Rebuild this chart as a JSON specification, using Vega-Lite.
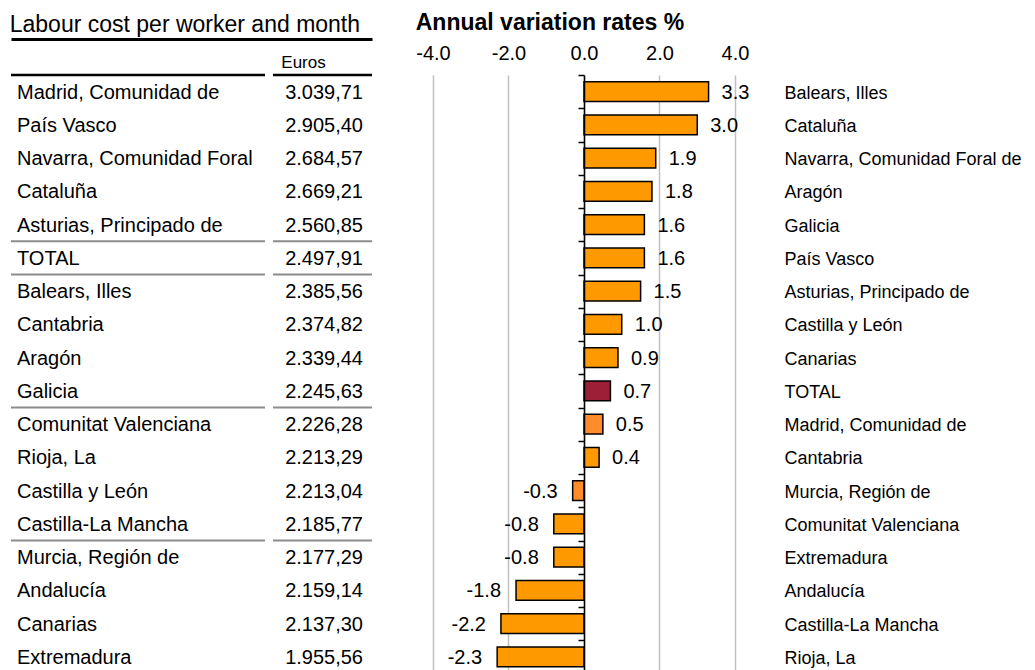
{
  "$schema": "https://vega.github.io/schema/vega-lite/v6.json",
  "padding": {"left": 9, "top": 12, "right": 0, "bottom": 0},
  "config": {
    "view": {"stroke": null},
    "font": "Liberation Sans",
    "scale": {"bandPaddingInner": 0, "bandPaddingOuter": 0},
    "locale": {"number": {"decimal": ".", "thousands": ",", "grouping": [3], "currency": ["", ""], "minus": "-"}}
  },
  "data": {
    "values": [
      {"region": "Balears, Illes", "euros": 2385.56, "rate": 3.3},
      {"region": "Cataluña", "euros": 2669.21, "rate": 3.0},
      {"region": "Navarra, Comunidad Foral de", "euros": 2684.57, "rate": 1.9},
      {"region": "Aragón", "euros": 2339.44, "rate": 1.8},
      {"region": "Galicia", "euros": 2245.63, "rate": 1.6},
      {"region": "País Vasco", "euros": 2905.40, "rate": 1.6},
      {"region": "Asturias, Principado de", "euros": 2560.85, "rate": 1.5},
      {"region": "Castilla y León", "euros": 2213.04, "rate": 1.0},
      {"region": "Canarias", "euros": 2137.30, "rate": 0.9},
      {"region": "TOTAL", "euros": 2497.91, "rate": 0.7},
      {"region": "Madrid, Comunidad de", "euros": 3039.71, "rate": 0.5},
      {"region": "Cantabria", "euros": 2374.82, "rate": 0.4},
      {"region": "Murcia, Región de", "euros": 2177.29, "rate": -0.3},
      {"region": "Comunitat Valenciana", "euros": 2226.28, "rate": -0.8},
      {"region": "Extremadura", "euros": 1955.56, "rate": -0.8},
      {"region": "Andalucía", "euros": 2159.14, "rate": -1.8},
      {"region": "Castilla-La Mancha", "euros": 2185.77, "rate": -2.2},
      {"region": "Rioja, La", "euros": 2213.29, "rate": -2.3}
    ]
  },
  "bounds": "flush",
  "spacing": 48,
  "hconcat": [
    {
      "width": 361,
      "height": 598.5,
      "title": {"text": "Labour cost per worker and month", "anchor": "start", "fontSize": 23, "fontWeight": "normal", "color": "black", "offset": 2},
      "layer": [
        {
          "mark": {"type": "text", "align": "left", "baseline": "middle", "fontSize": 20, "dy": 1, "limit": 238, "ellipsis": "\u200b", "color": "black"},
          "encoding": {
            "y": {"field": "region", "type": "nominal", "sort": {"field": "euros", "op": "max", "order": "descending"}, "axis": null},
            "x": {"datum": 6, "type": "quantitative", "scale": {"domain": [0, 361], "nice": false, "zero": false},
                  "axis": {"orient": "top", "offset": 36, "domain": true, "domainColor": "black", "domainWidth": 3, "labels": false, "ticks": false, "tickSize": 0, "grid": false, "title": null}},
            "text": {"field": "region", "type": "nominal"}
          }
        },
        {
          "mark": {"type": "text", "align": "right", "baseline": "middle", "fontSize": 20, "dy": 1, "color": "black",
                   "text": {"expr": "replace(replace(replace(format(datum.euros, ',.2f'), ',', '#'), '.', ','), '#', '.')"}},
          "encoding": {
            "y": {"field": "region", "type": "nominal", "sort": {"field": "euros", "op": "max", "order": "descending"}, "axis": null},
            "x": {"datum": 352, "type": "quantitative",
                  "axis": {"orient": "top", "values": [292], "labelExpr": "'Euros'", "domain": false, "ticks": false, "tickSize": 0, "grid": false, "labelFontSize": 17, "labelPadding": 8, "labelBaseline": "alphabetic", "labelColor": "black", "title": null}}
          }
        },
        {
          "transform": [{"filter": "datum.region == 'Madrid, Comunidad de'"}],
          "mark": {"type": "rule", "color": "black", "strokeWidth": 2.5},
          "encoding": {
            "y": {"field": "region", "type": "nominal", "sort": {"field": "euros", "op": "max", "order": "descending"}, "axis": null, "bandPosition": 0},
            "x": {"datum": 0, "type": "quantitative", "axis": null},
            "x2": {"datum": 254}
          }
        },
        {
          "transform": [{"filter": "datum.region == 'Madrid, Comunidad de'"}],
          "mark": {"type": "rule", "color": "black", "strokeWidth": 2.5},
          "encoding": {
            "y": {"field": "region", "type": "nominal", "sort": {"field": "euros", "op": "max", "order": "descending"}, "axis": null, "bandPosition": 0},
            "x": {"datum": 262, "type": "quantitative", "axis": null},
            "x2": {"datum": 361}
          }
        },
        {
          "transform": [{"filter": "indexof(['Asturias, Principado de', 'TOTAL', 'Galicia', 'Castilla-La Mancha'], datum.region) >= 0"}],
          "mark": {"type": "rule", "color": "#8c8c8c", "strokeWidth": 2},
          "encoding": {
            "y": {"field": "region", "type": "nominal", "sort": {"field": "euros", "op": "max", "order": "descending"}, "axis": null, "bandPosition": 1},
            "x": {"datum": 0, "type": "quantitative", "axis": null},
            "x2": {"datum": 254}
          }
        },
        {
          "transform": [{"filter": "indexof(['Asturias, Principado de', 'TOTAL', 'Galicia', 'Castilla-La Mancha'], datum.region) >= 0"}],
          "mark": {"type": "rule", "color": "#8c8c8c", "strokeWidth": 2},
          "encoding": {
            "y": {"field": "region", "type": "nominal", "sort": {"field": "euros", "op": "max", "order": "descending"}, "axis": null, "bandPosition": 1},
            "x": {"datum": 262, "type": "quantitative", "axis": null},
            "x2": {"datum": 361}
          }
        }
      ],
      "resolve": {"axis": {"x": "independent"}}
    },
    {
      "width": 350,
      "height": 598.5,
      "title": {"text": "Annual variation rates %", "anchor": "start", "fontSize": 23, "fontWeight": "bold", "color": "black", "offset": 8},
      "layer": [
        {
          "mark": {"type": "bar", "height": {"band": 0.6}, "stroke": "black", "strokeWidth": 1.5},
          "encoding": {
            "y": {"field": "region", "type": "nominal", "sort": null,
                  "axis": {"orient": "left", "offset": -164, "domain": true, "domainColor": "black", "domainWidth": 1.5, "ticks": true, "tickBand": "extent", "tickSize": 6, "tickColor": "black", "tickWidth": 1.5, "labels": false, "grid": false, "title": null, "zindex": 1}},
            "x": {"field": "rate", "type": "quantitative", "scale": {"domain": [-4.344, 4.927], "nice": false, "zero": false},
                  "axis": {"orient": "top", "values": [-4, -2, 0, 2, 4], "format": ".1f", "labelFontSize": 20, "labelColor": "black", "labelPadding": 16, "labelBaseline": "alphabetic", "domain": false, "ticks": false, "tickSize": 0, "grid": true, "gridColor": "#c0c0c0", "gridWidth": 1.5, "title": null}},
            "fill": {
              "condition": [
                {"test": "datum.region == 'TOTAL'", "value": "#9B1F36"},
                {"test": "datum.region == 'Madrid, Comunidad de' || datum.region == 'Murcia, Región de'", "value": "#FF8C2A"}
              ],
              "value": "#FF9900"
            }
          }
        },
        {
          "transform": [{"filter": "datum.rate >= 0"}],
          "mark": {"type": "text", "align": "left", "baseline": "middle", "dx": 13, "dy": 1, "fontSize": 20, "color": "black"},
          "encoding": {
            "y": {"field": "region", "type": "nominal", "sort": null,
                  "axis": {"orient": "right", "labelAlign": "left", "labelPadding": 14, "labelFontSize": 18, "labelColor": "black", "labelBaseline": "middle", "labelOffset": 2, "labelLimit": 300, "domain": false, "ticks": false, "grid": false, "title": null}},
            "x": {"field": "rate", "type": "quantitative"},
            "text": {"field": "rate", "type": "quantitative", "format": ".1f"}
          }
        },
        {
          "transform": [{"filter": "datum.rate < 0"}],
          "mark": {"type": "text", "align": "right", "baseline": "middle", "dx": -15, "dy": 1, "fontSize": 20, "color": "black"},
          "encoding": {
            "y": {"field": "region", "type": "nominal", "sort": null, "axis": null},
            "x": {"field": "rate", "type": "quantitative"},
            "text": {"field": "rate", "type": "quantitative", "format": ".1f"}
          }
        }
      ],
      "resolve": {"axis": {"y": "independent"}}
    }
  ]
}
